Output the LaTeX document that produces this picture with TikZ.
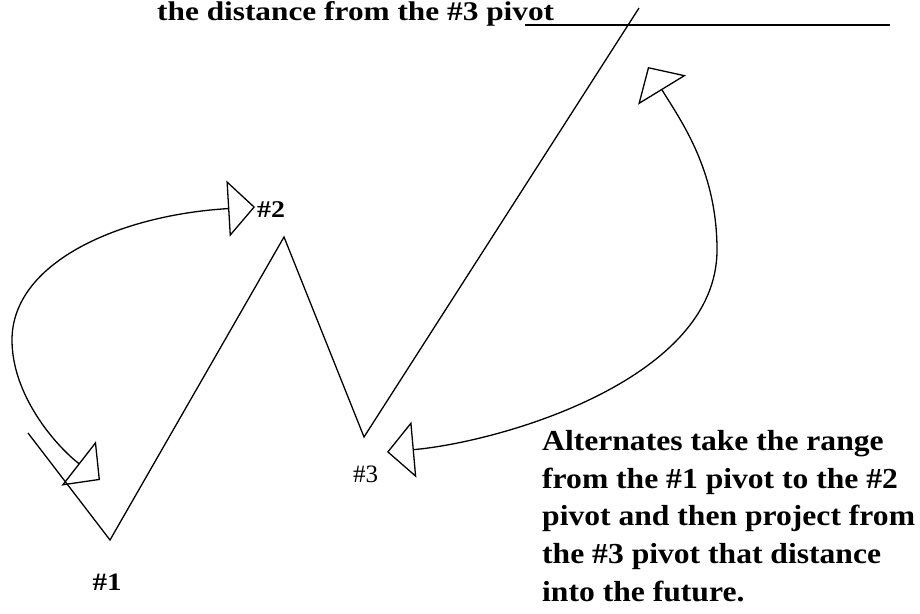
\documentclass[tikz,border=0pt]{standalone}
\usepackage{fontspec}
\setmainfont{Liberation Serif}
\newfontfamily\widefont[FakeStretch=1.16]{Liberation Serif}
\newfontfamily\notefont[FakeStretch=1.09]{Liberation Serif}
\usetikzlibrary{arrows.meta}
\tikzset{
  zig/.style={line width=1.3pt},
  swing/.style={line width=1.3pt,{Triangle[open,length=27pt,width=56pt]}-{Triangle[open,length=27pt,width=56pt]}},
  note/.style={inner sep=0pt,font=\notefont\fontsize{29}{37.8}\selectfont\bfseries},
  pivlbl/.style={inner sep=0pt,font=\fontsize{25}{28}\selectfont}
}
\begin{document}
\begin{tikzpicture}[x=1pt,y=-1pt]
\useasboundingbox (0,0) rectangle (920,613);
% swing line through the pivots
\coordinate (p0) at (28,433);
\coordinate (p1) at (110,540);
\coordinate (p2) at (284,237);
\coordinate (p3) at (364,437);
\coordinate (p4) at (639,8);
\draw[zig] (p0) -- (p1) -- (p2) -- (p3) -- (p4);
\coordinate (h0) at (525,25);
\coordinate (h1) at (890,25);
\draw[zig] (h0) -- (h1);

\node[pivlbl,anchor=base,font=\widefont\fontsize{25}{28}\selectfont\bfseries] (lbl1) at (107,590) {\#1};
\node[pivlbl,anchor=base west,font=\widefont\fontsize{24}{28}\selectfont\bfseries] (lbl2) at (257,217) {\#2};
\node[pivlbl,anchor=base west] (lbl3) at (353,482) {\#3};

% range arrows
\coordinate (a1) at (100,480);
\coordinate (a2) at (255,207);
\coordinate (a3) at (387,452);
\coordinate (a4) at (648,67);
\draw[swing] (a2) .. controls (120,215) and (12,262) .. (12,340) .. controls (12,395) and (55,445) .. (a1);
\draw[swing] (a3) .. controls (500,442) and (717,380) .. (717,250) .. controls (717,170) and (681,121) .. (a4);

\node[note,anchor=base west,font=\widefont\fontsize{27}{30}\selectfont\bfseries] (top) at (157,20) {the distance from the \#3 pivot};
\node[note,anchor=north west,align=left] (alt) at (542,430) {Alternates take the range\\from the \#1 pivot to the \#2\\pivot and then project from\\the \#3 pivot that distance\\into the future.};
\end{tikzpicture}
\end{document}
